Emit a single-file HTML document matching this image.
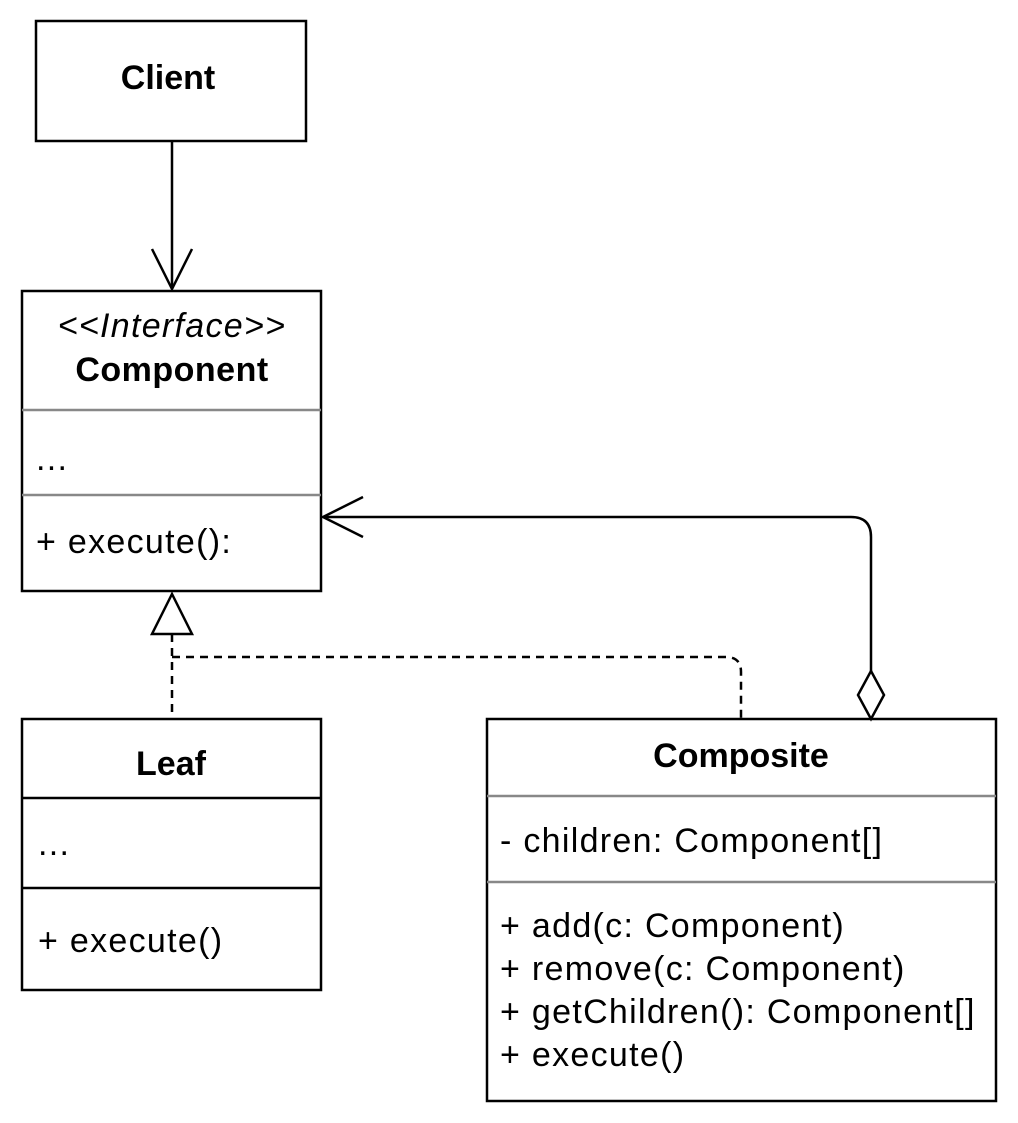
<!DOCTYPE html>
<html><head><meta charset="utf-8"><style>
html,body{margin:0;padding:0;background:#fff;}
svg{display:block;}
text{font-family:"Liberation Sans",Arial,sans-serif;font-size:34px;fill:#000;}
.r{letter-spacing:1.3px;}
</style></head><body>
<svg width="1018" height="1123" viewBox="0 0 1018 1123" xmlns="http://www.w3.org/2000/svg">
<g fill="#fff" stroke="#000" stroke-width="2.5">
<rect x="36" y="21" width="270" height="120"/>
<rect x="22" y="291" width="299" height="300"/>
<rect x="22" y="719" width="299" height="271"/>
<rect x="487" y="719" width="509" height="382"/>
</g>
<g stroke="#888" stroke-width="2.5">
<line x1="22" y1="410" x2="321" y2="410"/>
<line x1="22" y1="495" x2="321" y2="495"/>
<line x1="487" y1="796" x2="996" y2="796"/>
<line x1="487" y1="882" x2="996" y2="882"/>
</g>
<g stroke="#000" stroke-width="2.5">
<line x1="22" y1="798" x2="321" y2="798"/>
<line x1="22" y1="888" x2="321" y2="888"/>
</g>
<g fill="none" stroke="#000" stroke-width="2.5">
<line x1="172" y1="141" x2="172" y2="289"/>
<polyline points="152,249 172,289 192,249"/>
<path d="M871 671 V537 Q871 517 851 517 H323"/>
<polyline points="363,497 323,517 363,537"/>
<path d="M172 634 V719" stroke-dasharray="8,6"/>
<path d="M172 657 H726 Q741 657 741 672 V719" stroke-dasharray="8,6"/>
</g>
<polygon points="172,594 192,634 152,634" fill="#fff" stroke="#000" stroke-width="2.5"/>
<polygon points="871,671 884,695 871,719 858,695" fill="#fff" stroke="#000" stroke-width="2.5"/>
<text x="168" y="89" text-anchor="middle" font-weight="bold">Client</text>
<text x="172" y="337" text-anchor="middle" font-style="italic" class="r">&lt;&lt;Interface&gt;&gt;</text>
<text x="172" y="381" text-anchor="middle" font-weight="bold" letter-spacing="0.5">Component</text>
<text x="36" y="470" class="r">...</text>
<text x="36" y="553" class="r">+ execute():</text>
<text x="171" y="775" text-anchor="middle" font-weight="bold">Leaf</text>
<text x="38" y="855" class="r">...</text>
<text x="38" y="952" class="r">+ execute()</text>
<text x="741" y="767" text-anchor="middle" font-weight="bold">Composite</text>
<text x="500" y="852" class="r">- children: Component[]</text>
<text x="500" y="937" class="r">+ add(c: Component)</text>
<text x="500" y="980" class="r">+ remove(c: Component)</text>
<text x="500" y="1023" class="r">+ getChildren(): Component[]</text>
<text x="500" y="1066" class="r">+ execute()</text>
</svg>
</body></html>
